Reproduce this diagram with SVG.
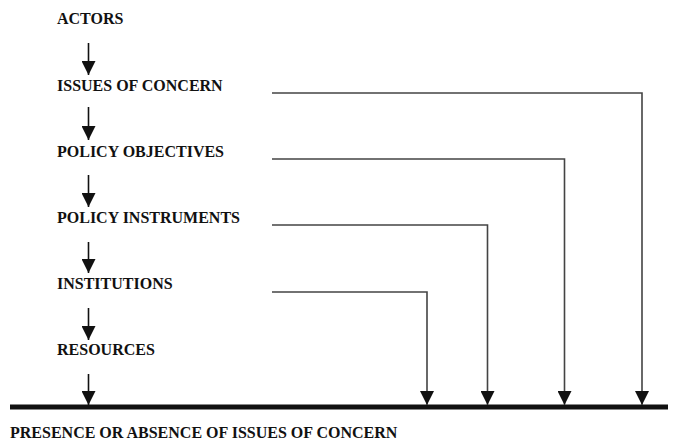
<svg xmlns="http://www.w3.org/2000/svg" width="677" height="442" viewBox="0 0 677 442">
<style>
text{font-family:'Liberation Serif','Times New Roman',Times,serif;font-weight:bold;font-size:16px;fill:#111}
.v{stroke:#111;stroke-width:1.6;fill:none}
.c{stroke:#444;stroke-width:1.6;fill:none}
</style>
<defs>
<marker id="ah2" viewBox="0 0 14 14" markerWidth="14" markerHeight="14" refX="7" refY="14" markerUnits="userSpaceOnUse">
<path d="M0,0 L14,0 L7,14 Z" fill="#111"/>
</marker>
</defs>
<rect width="677" height="442" fill="#fff"/>
<g id="actors"><text x="57" y="24" font-family="Liberation Serif, serif">ACTORS</text></g>
<g id="issues"><text x="57" y="91" font-family="Liberation Serif, serif">ISSUES OF CONCERN</text></g>
<g id="objectives"><text x="57" y="157" font-family="Liberation Serif, serif">POLICY OBJECTIVES</text></g>
<g id="instruments"><text x="57" y="223" font-family="Liberation Serif, serif">POLICY INSTRUMENTS</text></g>
<g id="institutions"><text x="57" y="289" font-family="Liberation Serif, serif">INSTITUTIONS</text></g>
<g id="resources"><text x="57" y="355" font-family="Liberation Serif, serif">RESOURCES</text></g>
<g id="presence">
<rect x="10" y="404.5" width="658" height="5" fill="#111"/>
<text x="10" y="438" font-family="Liberation Serif, serif">PRESENCE OR ABSENCE OF ISSUES OF CONCERN</text>
</g>
<g id="connectors">
<line class="v" x1="88.5" y1="43" x2="88.5" y2="75" marker-end="url(#ah2)"/>
<line class="v" x1="88.5" y1="107" x2="88.5" y2="140" marker-end="url(#ah2)"/>
<line class="v" x1="88.5" y1="175" x2="88.5" y2="207" marker-end="url(#ah2)"/>
<line class="v" x1="88.5" y1="242" x2="88.5" y2="273" marker-end="url(#ah2)"/>
<line class="v" x1="88.5" y1="308" x2="88.5" y2="340" marker-end="url(#ah2)"/>
<line class="v" x1="88.5" y1="374" x2="88.5" y2="405" marker-end="url(#ah2)"/>
<polyline class="c" points="272,93 642,93 642,405" marker-end="url(#ah2)"/>
<polyline class="c" points="272,159 564.5,159 564.5,405" marker-end="url(#ah2)"/>
<polyline class="c" points="272,225 487.5,225 487.5,405" marker-end="url(#ah2)"/>
<polyline class="c" points="272,292 427,292 427,405" marker-end="url(#ah2)"/>
</g>
</svg>
